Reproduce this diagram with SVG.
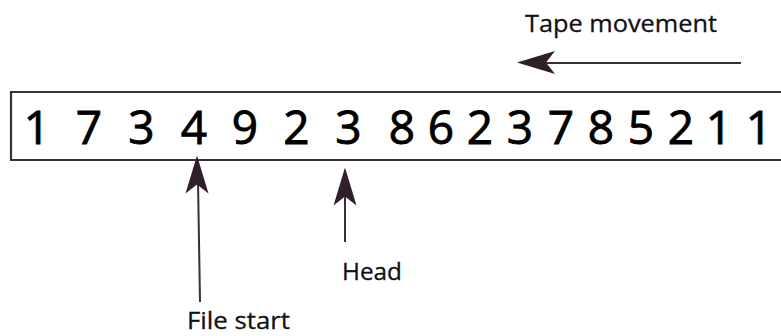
<svg xmlns="http://www.w3.org/2000/svg" width="781" height="336" viewBox="0 0 781 336">
  <style>
    .tape { fill: #ffffff; stroke: #3d2d3a; stroke-width: 2.2; }
    .digit { font-family: "Open Sans", "DejaVu Sans", sans-serif; font-size: 46px; fill: #000000; stroke: #000000; stroke-width: 0.9; text-anchor: middle; }
    .label { font-family: "Open Sans", "DejaVu Sans", sans-serif; font-size: 24px; fill: #111111; stroke: #111111; stroke-width: 0.3; }
    .link { stroke: #3d2d3a; stroke-width: 2; fill: none; }
    .head { fill: #2e1f2b; }
  </style>
  <defs>
    <!-- barbed arrowhead, tip at origin pointing to +x -->
    <path id="barb" d="M0,0 L-38,-11.5 L-29,0 L-38,11.5 Z"/>
  </defs>
  <rect width="781" height="336" fill="#ffffff"/>

  <!-- tape strip, open at the right edge -->
  <g id="tape">
    <path class="tape" d="M790,92 L11,92 L11,160 L790,160"/>
    <g>
      <text class="digit" x="37" y="144">1</text>
      <text class="digit" x="89" y="144">7</text>
      <text class="digit" x="141.5" y="144">3</text>
      <text class="digit" x="194" y="144">4</text>
      <text class="digit" x="245" y="144">9</text>
      <text class="digit" x="296.5" y="144">2</text>
      <text class="digit" x="348.5" y="144">3</text>
      <text class="digit" x="402" y="144">8</text>
      <text class="digit" x="441" y="144">6</text>
      <text class="digit" x="480" y="144">2</text>
      <text class="digit" x="520" y="144">3</text>
      <text class="digit" x="561" y="144">7</text>
      <text class="digit" x="601" y="144">8</text>
      <text class="digit" x="641" y="144">5</text>
      <text class="digit" x="681" y="144">2</text>
      <text class="digit" x="719" y="144">1</text>
      <text class="digit" x="759" y="144">1</text>
    </g>
  </g>

  <g id="tape-movement">
    <text class="label" x="525" y="31.5" textLength="192" lengthAdjust="spacingAndGlyphs">Tape movement</text>
  </g>
  <g id="file-start">
    <text class="label" x="187" y="329" textLength="103" lengthAdjust="spacingAndGlyphs">File start</text>
  </g>
  <g id="head">
    <text class="label" x="342" y="279.5" textLength="60" lengthAdjust="spacingAndGlyphs">Head</text>
  </g>

  <!-- connectors -->
  <g id="connectors">
    <line class="link" x1="741" y1="63" x2="540" y2="63"/>
    <use href="#barb" class="head" transform="translate(517,62.5) rotate(180)"/>

    <line class="link" x1="200" y1="302" x2="198" y2="180"/>
    <use href="#barb" class="head" transform="translate(197,155.5) rotate(-90)"/>

    <line class="link" x1="345" y1="242" x2="345" y2="190"/>
    <use href="#barb" class="head" transform="translate(345,167.5) rotate(-90)"/>
  </g>
</svg>
